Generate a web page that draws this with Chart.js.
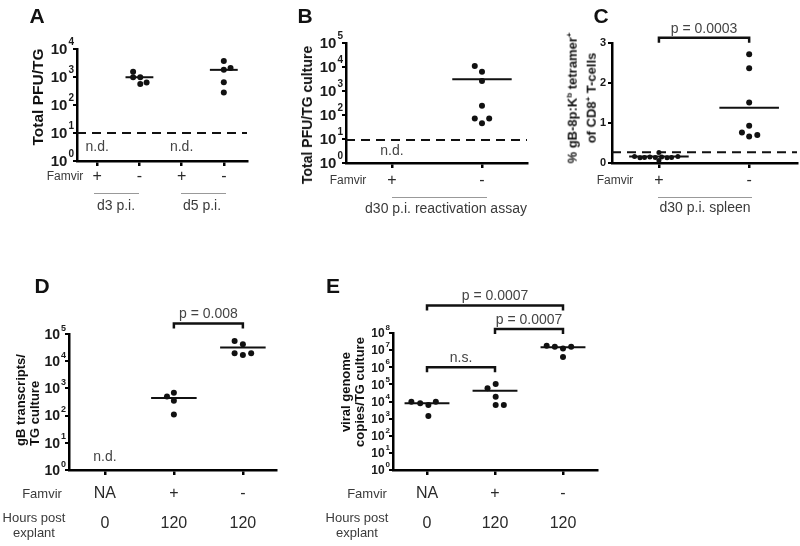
<!DOCTYPE html>
<html>
<head>
<meta charset="utf-8">
<script src="https://cdn.jsdelivr.net/npm/chart.js@4.4.0/dist/chart.umd.min.js"></script>
<style>
body { margin: 0; background: #fff; }
#fig { position: relative; width: 800px; height: 546px; overflow: hidden; font-family: 'Liberation Sans', Arial, sans-serif; color: #3a3a3a; }
#fig canvas { position: absolute; }
.t { position: absolute; white-space: nowrap; transform: translate(-50%, -50%); line-height: 1; }
.rot { transform: translate(-50%, -50%) rotate(-90deg); text-align: center; font-weight: bold; color: #111; }
.lbl { font-weight: bold; font-size: 21px; color: #111; }
.u { position: absolute; height: 0; border-top: 1.5px solid #999; }
</style>
</head>
<body>
<div id="fig">
  <canvas id="chartA"></canvas>
  <canvas id="chartB"></canvas>
  <canvas id="chartC"></canvas>
  <canvas id="chartD"></canvas>
  <canvas id="chartE"></canvas>

  <div class="t lbl" style="left:37px;top:15px">A</div>
  <div class="t lbl" style="left:305px;top:15px">B</div>
  <div class="t lbl" style="left:601px;top:15px">C</div>
  <div class="t lbl" style="left:42px;top:285px">D</div>
  <div class="t lbl" style="left:333px;top:285px">E</div>

  <!-- y axis titles -->
  <div class="t rot" style="left:38px;top:97px;font-size:15.5px">Total PFU/TG</div>
  <div class="t rot" style="left:307px;top:115px;font-size:14px">Total PFU/TG culture</div>
  <div class="t rot" style="left:581px;top:98px;font-size:13px;line-height:16px">% gB-8p:K<sup style="font-size:8px">b</sup> tetramer<sup style="font-size:8px">+</sup><br>of CD8<sup style="font-size:8px">+</sup> T-cells</div>
  <div class="t rot" style="left:28px;top:400px;font-size:13px;line-height:14px;text-align:left">gB transcripts/<br>TG culture</div>
  <div class="t rot" style="left:353px;top:392px;font-size:13px;line-height:14px">viral genome<br>copies/TG culture</div>

  <!-- row labels -->
  <div class="t" style="left:65px;top:176px;font-size:12px">Famvir</div>
  <div class="t" style="left:348px;top:180px;font-size:12px">Famvir</div>
  <div class="t" style="left:615px;top:180px;font-size:12px">Famvir</div>
  <div class="t" style="left:42px;top:493px;font-size:13px">Famvir</div>
  <div class="t" style="left:367px;top:493px;font-size:13px">Famvir</div>
  <div class="t" style="left:34px;top:525px;font-size:13px;line-height:15px;text-align:center">Hours post<br>explant</div>
  <div class="t" style="left:357px;top:525px;font-size:13px;line-height:15px;text-align:center">Hours post<br>explant</div>

  <!-- time point groups -->
  <div class="u" style="left:94px;top:193px;width:45px"></div>
  <div class="u" style="left:181px;top:193px;width:45px"></div>
  <div class="u" style="left:392px;top:197px;width:95px"></div>
  <div class="u" style="left:658px;top:197px;width:94px"></div>
  <div class="t" style="left:116px;top:205px;font-size:14px">d3 p.i.</div>
  <div class="t" style="left:202px;top:205px;font-size:14px">d5 p.i.</div>
  <div class="t" style="left:446px;top:208px;font-size:14px">d30 p.i. reactivation assay</div>
  <div class="t" style="left:705px;top:207px;font-size:14px">d30 p.i. spleen</div>
</div>

<script>
const FONT = "'Liberation Sans', Arial, sans-serif";

// ---- values ----
// A: total PFU/TG, famvir + / - at d3 and d5 p.i.
const aLabels = ['+', '-', '+', '-'];
const aD3Minus = [1550, 980, 980, 560, 630];
const aD3Jitter = [-0.15, -0.15, 0.02, 0.02, 0.17];
const aD5Minus = [3700, 2100, 1800, 650, 280];
const aD5Jitter = [0, 0.16, 0, 0, 0];
const aMedians = [980, 1800];
const aLimit = 10;
const aNotDetected = [0, 2];

// B: reactivation assay d30 p.i.
const bLabels = ['+', '-'];
const bMinus = [11000, 6300, 2600, 240, 72, 45, 72];
const bJitter = [-0.08, 0, 0, 0, -0.08, 0, 0.08];
const bMedian = 3100;
const bLimit = 9;
const bNotDetected = [0];

// C: % tetramer+ of CD8 T-cells, spleen
const cLabels = ['+', '-'];
const cPlus = [0.16, 0.13, 0.14, 0.15, 0.14, 0.26, 0.06, 0.15, 0.13, 0.14, 0.16];
const cPlusJitter = [-0.27, -0.21, -0.16, -0.1, -0.04, 0, 0, 0.03, 0.09, 0.14, 0.21];
const cMinus = [2.72, 2.37, 1.51, 0.93, 0.76, 0.66, 0.7];
const cMinusJitter = [0, 0, 0, 0, -0.08, 0, 0.09];
const cMedians = [0.16, 1.38];
const cLimit = 0.27;
const cPValue = 'p = 0.0003';

// D: gB transcripts / TG culture
const dLabels = [['NA', '0'], ['+', '120'], ['-', '120']];
const dPlus = [500, 690, 350, 110];
const dPlusJitter = [-0.1, 0, 0, 0];
const dMinus = [55000, 42000, 19500, 17000, 19500];
const dMinusJitter = [-0.12, 0, -0.12, 0, 0.12];
const dMedians = [440, 32000];
const dPValue = 'p = 0.008';

// E: viral genome copies / TG culture
const eLabels = [['NA', '0'], ['+', '120'], ['-', '120']];
const eNA = [9600, 7800, 6200, 9600, 1400];
const eNAJitter = [-0.23, -0.1, 0.02, 0.13, 0.02];
const ePlus = [59000, 105000, 19000, 6200, 6200];
const ePlusJitter = [-0.11, 0.01, 0.01, 0.01, 0.13];
const eMinus = [18e6, 16e6, 12.6e6, 16e6, 4e6];
const eMinusJitter = [-0.24, -0.12, 0, 0.12, 0];
const eMedians = [7800, 43000, 14.5e6];

const decades = n => Array.from({ length: n + 1 }, (_, i) => Math.pow(10, i));

// plugin: threshold line, y labels with exponents, n.d. text, brackets
function makeExtras(cfg) {
    return {
        id: 'extras',
        afterDraw(chart) {
            const ctx = chart.ctx, xs = chart.scales.x, ys = chart.scales.y, area = chart.chartArea;
            ctx.save();
            if (cfg.limit != null) {
                const y = ys.getPixelForValue(cfg.limit);
                ctx.strokeStyle = '#111';
                ctx.lineWidth = 2;
                ctx.setLineDash([9, 6]);
                ctx.beginPath();
                ctx.moveTo(area.left, y);
                ctx.lineTo(area.right, y);
                ctx.stroke();
                ctx.setLineDash([]);
            }
            // y tick labels
            ctx.fillStyle = '#1a1a1a';
            ctx.textBaseline = 'middle';
            ys.ticks.forEach(t => {
                const y = ys.getPixelForValue(t.value);
                if (cfg.log) {
                    const e = String(Math.round(Math.log10(t.value)));
                    const xr = area.left - 3;
                    ctx.font = `bold ${cfg.sup}px ${FONT}`;
                    ctx.textAlign = 'right';
                    const ew = ctx.measureText(e).width;
                    ctx.fillText(e, xr, y - cfg.fs * 0.42);
                    ctx.font = `bold ${cfg.fs}px ${FONT}`;
                    ctx.fillText('10', xr - ew - 1, y + 1);
                } else {
                    ctx.font = `bold ${cfg.fs}px ${FONT}`;
                    ctx.textAlign = 'right';
                    ctx.fillText(String(t.value), area.left - 6, y);
                }
            });
            // n.d.
            ctx.fillStyle = '#444';
            ctx.textAlign = 'center';
            ctx.font = `14px ${FONT}`;
            (cfg.nd || []).forEach(c => {
                ctx.fillText('n.d.', xs.getPixelForValue(c), ys.getPixelForValue(3));
            });
            // significance brackets
            (cfg.brackets || []).forEach(b => {
                const x1 = xs.getPixelForValue(b.a), x2 = xs.getPixelForValue(b.b);
                const y = ys.getPixelForValue(b.level);
                ctx.strokeStyle = '#111';
                ctx.lineWidth = 2.5;
                ctx.beginPath();
                ctx.moveTo(x1, y + 5);
                ctx.lineTo(x1, y);
                ctx.lineTo(x2, y);
                ctx.lineTo(x2, y + 5);
                ctx.stroke();
                ctx.fillStyle = '#444';
                ctx.font = `14px ${FONT}`;
                ctx.fillText(b.text, (x1 + x2) / 2, y - 9);
            });
            ctx.restore();
        }
    };
}

function panelChart(id, box, xr, xLabels, xTicks, yOpt, groups, extra) {
    const L = 60, T = 50, R = 8, B = 80;
    const cv = document.getElementById(id);
    const w = box.r - box.l + L + R, h = box.b - box.t + T + B;
    cv.width = w; cv.height = h;
    cv.style.left = (box.l - L) + 'px';
    cv.style.top = (box.t - T) + 'px';
    cv.style.width = w + 'px';
    cv.style.height = h + 'px';

    const datasets = [];
    groups.forEach(g => {
        datasets.push({
            data: g.values.map((v, i) => ({ x: g.x + g.jitter[i], y: v })),
            pointRadius: g.r || 3,
            pointBackgroundColor: '#111',
            pointBorderWidth: 0,
            showLine: false,
            clip: false,
        });
        if (g.median != null) {
            datasets.push({
                data: [{ x: g.x - 0.33, y: g.median }, { x: g.x + 0.33, y: g.median }],
                showLine: true,
                borderColor: '#111',
                borderWidth: 2,
                pointRadius: 0,
                clip: false,
            });
        }
    });

    return new Chart(cv, {
        type: 'scatter',
        data: { datasets },
        options: {
            responsive: false,
            animation: false,
            events: [],
            layout: { padding: { left: 0, top: T, right: R, bottom: 0 } },
            plugins: { legend: { display: false }, tooltip: { enabled: false } },
            scales: {
                x: {
                    type: 'linear',
                    min: xr[0],
                    max: xr[1],
                    bounds: 'data',
                    afterBuildTicks: s => { s.ticks = xLabels.map((_, i) => ({ value: i })); },
                    afterFit: s => { s.height = B; },
                    ticks: {
                        autoSkip: false,
                        maxRotation: 0,
                        padding: xTicks.pad,
                        color: '#2a2a2a',
                        font: { family: FONT, size: 16, lineHeight: xTicks.lh },
                        callback: v => xLabels[v],
                    },
                    grid: { drawOnChartArea: false, drawTicks: true, tickLength: 5, color: '#000', lineWidth: 2.5 },
                    border: { color: '#000', width: 2.5 },
                },
                y: {
                    type: yOpt.log ? 'logarithmic' : 'linear',
                    min: yOpt.min,
                    max: yOpt.max,
                    bounds: 'data',
                    afterBuildTicks: s => { s.ticks = yOpt.ticks.map(v => ({ value: v })); },
                    afterFit: s => { s.width = L; },
                    ticks: { display: false },
                    grid: { drawOnChartArea: false, drawTicks: true, tickLength: 4, color: '#000', lineWidth: 2 },
                    border: { color: '#000', width: 2.5 },
                },
            },
        },
        plugins: [makeExtras(Object.assign({ log: yOpt.log }, extra))],
    });
}

// A
panelChart('chartA', { l: 77, t: 49, r: 247, b: 161 }, [-0.48, 3.55], aLabels, { pad: 1, lh: 1.2 },
    { log: true, min: 1, max: 1e4, ticks: decades(4) },
    [
        { x: 1, values: aD3Minus, jitter: aD3Jitter, median: aMedians[0] },
        { x: 3, values: aD5Minus, jitter: aD5Jitter, median: aMedians[1] },
    ],
    { limit: aLimit, nd: aNotDetected, fs: 15, sup: 10 });

// B
panelChart('chartB', { l: 346, t: 43, r: 527, b: 163 }, [-0.51, 1.5], bLabels, { pad: 3, lh: 1.2 },
    { log: true, min: 1, max: 1e5, ticks: decades(5) },
    [{ x: 1, values: bMinus, jitter: bJitter, median: bMedian }],
    { limit: bLimit, nd: bNotDetected, fs: 15, sup: 10 });

// C
panelChart('chartC', { l: 612, t: 43, r: 797, b: 163 }, [-0.52, 1.53], cLabels, { pad: 3, lh: 1.2 },
    { log: false, min: 0, max: 3, ticks: [0, 1, 2, 3] },
    [
        { x: 0, values: cPlus, jitter: cPlusJitter, median: cMedians[0], r: 2.5 },
        { x: 1, values: cMinus, jitter: cMinusJitter, median: cMedians[1] },
    ],
    { limit: cLimit, fs: 11, brackets: [{ a: 0, b: 1, level: 3.13, text: cPValue }] });

// D
panelChart('chartD', { l: 69, t: 334, r: 276, b: 470 }, [-0.52, 2.48], dLabels, { pad: 3, lh: 1.9 },
    { log: true, min: 1, max: 1e5, ticks: decades(5) },
    [
        { x: 1, values: dPlus, jitter: dPlusJitter, median: dMedians[0] },
        { x: 2, values: dMinus, jitter: dMinusJitter, median: dMedians[1] },
    ],
    { nd: [0], fs: 14, sup: 9, brackets: [{ a: 1, b: 2, level: 2.45e5, text: dPValue }] });

// E
panelChart('chartE', { l: 393, t: 333, r: 597, b: 470 }, [-0.5, 2.5], eLabels, { pad: 3, lh: 1.9 },
    { log: true, min: 1, max: 1e8, ticks: decades(8) },
    [
        { x: 0, values: eNA, jitter: eNAJitter, median: eMedians[0] },
        { x: 1, values: ePlus, jitter: ePlusJitter, median: eMedians[1] },
        { x: 2, values: eMinus, jitter: eMinusJitter, median: eMedians[2] },
    ],
    { fs: 12, sup: 8, brackets: [
        { a: 0, b: 2, level: 4e9, text: 'p = 0.0007' },
        { a: 1, b: 2, level: 1.7e8, text: 'p = 0.0007' },
        { a: 0, b: 1, level: 1e6, text: 'n.s.' },
    ] });
</script>
</body>
</html>
